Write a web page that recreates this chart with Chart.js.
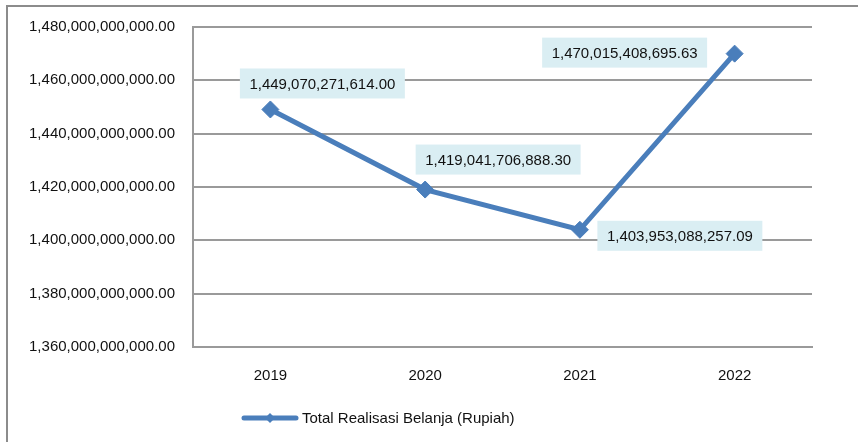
<!DOCTYPE html>
<html>
<head>
<meta charset="utf-8">
<script src="https://cdn.jsdelivr.net/npm/chart.js@4"></script>
<style>
  html, body { margin: 0; padding: 0; background: #ffffff; }
  #wrap { width: 858px; height: 442px; position: relative; }
</style>
</head>
<body>
<div id="wrap"><canvas id="c" width="858" height="442"></canvas></div>
<script>
// ---- data ----
const categories = ['2019', '2020', '2021', '2022'];
const seriesLabel = 'Total Realisasi Belanja (Rupiah)';
const seriesValues = [1449070271614.00, 1419041706888.30, 1403953088257.09, 1470015408695.63];
const yMin = 1360000000000;
const yMax = 1480000000000;
const yStep = 20000000000;

// ---- styling ----
const FONT = '"Liberation Sans", Arial, sans-serif';
const BLUE = '#4A7EBB';
const GRID = '#9a9a9a';
const TEXT = '#111111';
const labelOffsets = [[52, -26], [73, -30], [100, 6], [-110, -1]];

const fmt = v => Number(v).toLocaleString('en-US', { minimumFractionDigits: 2, maximumFractionDigits: 2 });

const frame = {
  id: 'frame',
  beforeDraw(chart) {
    const ctx = chart.ctx;
    ctx.save();
    ctx.fillStyle = '#ffffff';
    ctx.fillRect(0, 0, chart.width, chart.height);
    ctx.strokeStyle = '#8c8c8c';
    ctx.lineWidth = 2;
    ctx.beginPath();
    ctx.moveTo(7, chart.height);
    ctx.lineTo(7, 6);
    ctx.lineTo(chart.width, 6);
    ctx.stroke();
    ctx.restore();
  }
};

const dataLabels = {
  id: 'dataLabels',
  afterDatasetsDraw(chart) {
    const ctx = chart.ctx;
    const meta = chart.getDatasetMeta(0);
    const ds = chart.data.datasets[0];
    ctx.save();
    ctx.font = '15px ' + FONT;
    meta.data.forEach((pt, i) => {
      const txt = fmt(ds.data[i]);
      const w = ctx.measureText(txt).width + 19;
      const h = 30;
      const cx = pt.x + labelOffsets[i][0];
      const cy = pt.y + labelOffsets[i][1];
      ctx.fillStyle = '#DAEEF3';
      ctx.fillRect(cx - w / 2, cy - h / 2, w, h);
      ctx.fillStyle = TEXT;
      ctx.textAlign = 'center';
      ctx.textBaseline = 'middle';
      ctx.fillText(txt, cx, cy + 1);
    });
    ctx.restore();
  }
};

const customLegend = {
  id: 'customLegend',
  afterDraw(chart) {
    const ctx = chart.ctx;
    const ds = chart.data.datasets[0];
    const y = 418;
    const x0 = 242, x1 = 298;
    ctx.save();
    ctx.strokeStyle = ds.borderColor;
    ctx.lineWidth = 5;
    ctx.lineCap = 'round';
    ctx.beginPath();
    ctx.moveTo(x0 + 2, y);
    ctx.lineTo(x1 - 2, y);
    ctx.stroke();
    ctx.fillStyle = ds.borderColor;
    const mx = (x0 + x1) / 2, r = 5;
    ctx.beginPath();
    ctx.moveTo(mx, y - r);
    ctx.lineTo(mx + r, y);
    ctx.lineTo(mx, y + r);
    ctx.lineTo(mx - r, y);
    ctx.closePath();
    ctx.fill();
    ctx.fillStyle = TEXT;
    ctx.font = '15px ' + FONT;
    ctx.textAlign = 'left';
    ctx.textBaseline = 'middle';
    ctx.fillText(ds.label, 302, y + 1);
    ctx.restore();
  }
};

new Chart(document.getElementById('c'), {
  type: 'line',
  data: {
    labels: categories,
    datasets: [{
      label: seriesLabel,
      data: seriesValues,
      borderColor: BLUE,
      backgroundColor: BLUE,
      borderWidth: 5,
      tension: 0,
      pointStyle: 'rectRot',
      pointRadius: 8.5,
      pointHoverRadius: 8.5,
      pointBorderWidth: 1,
      pointBackgroundColor: BLUE,
      pointBorderColor: BLUE,
      fill: false
    }]
  },
  options: {
    responsive: false,
    animation: false,
    devicePixelRatio: 1,
    layout: { padding: { left: 0, top: 27, right: 46, bottom: 0 } },
    plugins: {
      legend: { display: false },
      tooltip: { enabled: false }
    },
    scales: {
      x: {
        offset: true,
        grid: { display: false, drawTicks: false },
        border: { display: true, color: GRID, width: 2 },
        ticks: { color: TEXT, font: { family: FONT, size: 15 }, padding: 20 },
        afterFit: s => { s.height = 95; }
      },
      y: {
        min: yMin,
        max: yMax,
        grid: { color: GRID, lineWidth: 2, drawTicks: false },
        border: { display: true, color: GRID, width: 2 },
        ticks: {
          stepSize: yStep,
          color: TEXT,
          font: { family: FONT, size: 15 },
          padding: 18,
          callback: v => fmt(v)
        },
        afterFit: s => { s.width = 193; }
      }
    }
  },
  plugins: [frame, dataLabels, customLegend]
});
</script>
</body>
</html>
